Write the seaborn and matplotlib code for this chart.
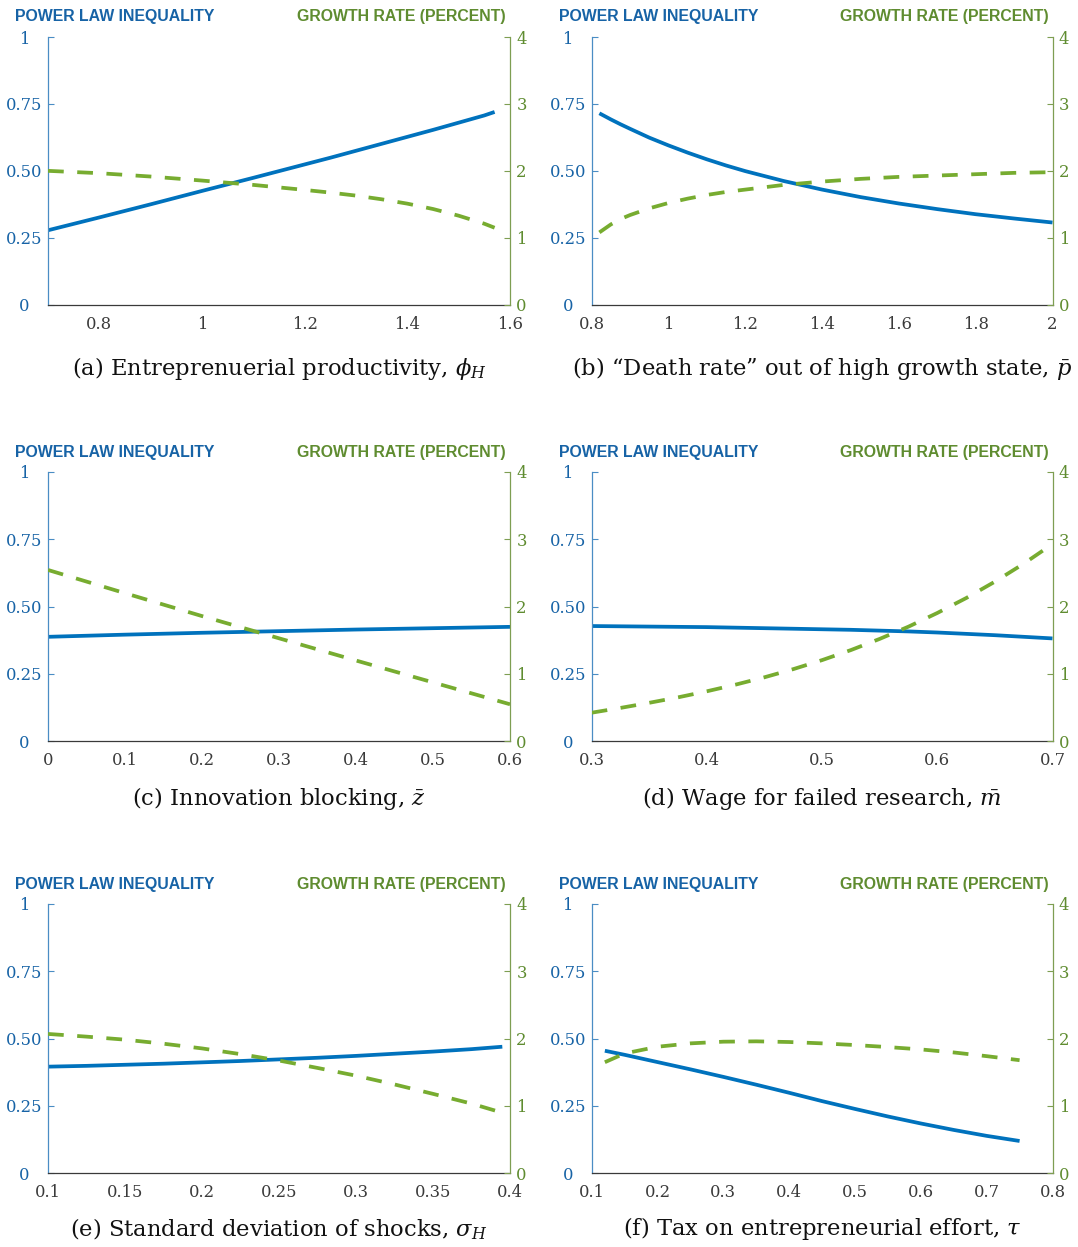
import matplotlib
matplotlib.use("Agg")
import matplotlib.pyplot as plt
import seaborn as sns

# ---------------- data ----------------
# (a) Entrepreneurial productivity
a_x = [0.70, 0.80, 0.90, 1.00, 1.10, 1.20, 1.25, 1.30, 1.35, 1.40, 1.45, 1.50, 1.55, 1.57]
a_ineq = [0.278, 0.326, 0.375, 0.425, 0.474, 0.524, 0.549, 0.575, 0.601, 0.627, 0.653, 0.680, 0.707, 0.720]
a_growth = [2.00, 1.965, 1.915, 1.855, 1.79, 1.715, 1.675, 1.63, 1.575, 1.51, 1.43, 1.33, 1.21, 1.15]
a_ticks = [0.8, 1.0, 1.2, 1.4, 1.6]
a_ticklabels = ["0.8", "1", "1.2", "1.4", "1.6"]
a_xlim = (0.7, 1.6)

# (b) Death rate out of high growth state
b_x = [0.82, 0.85, 0.875, 0.90, 0.95, 1.00, 1.05, 1.10, 1.15, 1.20, 1.30, 1.40, 1.50, 1.60, 1.70, 1.80, 1.90, 2.00]
b_ineq = [0.715, 0.692, 0.674, 0.657, 0.624, 0.595, 0.568, 0.543, 0.520, 0.499, 0.462, 0.430,
          0.402, 0.378, 0.357, 0.338, 0.322, 0.307]
b_growth = [1.08, 1.20, 1.28, 1.34, 1.44, 1.52, 1.585, 1.64, 1.685, 1.72, 1.79, 1.84,
            1.88, 1.91, 1.93, 1.95, 1.97, 1.98]
b_ticks = [0.8, 1.0, 1.2, 1.4, 1.6, 1.8, 2.0]
b_ticklabels = ["0.8", "1", "1.2", "1.4", "1.6", "1.8", "2"]
b_xlim = (0.8, 2.0)

# (c) Innovation blocking
c_x = [0.0, 0.1, 0.2, 0.3, 0.4, 0.5, 0.6]
c_ineq = [0.388, 0.396, 0.403, 0.409, 0.415, 0.420, 0.425]
c_growth = [2.545, 2.20, 1.86, 1.53, 1.20, 0.875, 0.55]
c_ticks = [0.0, 0.1, 0.2, 0.3, 0.4, 0.5, 0.6]
c_ticklabels = ["0", "0.1", "0.2", "0.3", "0.4", "0.5", "0.6"]
c_xlim = (0.0, 0.6)

# (d) Wage for failed research
d_x = [0.300, 0.325, 0.350, 0.375, 0.400, 0.425, 0.450, 0.475, 0.500, 0.525, 0.550,
       0.575, 0.600, 0.625, 0.650, 0.675, 0.700]
d_ineq = [0.428, 0.427, 0.426, 0.425, 0.424, 0.422, 0.420, 0.418, 0.416, 0.414, 0.411,
          0.408, 0.404, 0.399, 0.394, 0.388, 0.382]
d_growth = [0.425, 0.496, 0.572, 0.653, 0.743, 0.842, 0.951, 1.072, 1.206, 1.355, 1.521,
            1.703, 1.906, 2.127, 2.371, 2.638, 2.930]
d_ticks = [0.3, 0.4, 0.5, 0.6, 0.7]
d_ticklabels = ["0.3", "0.4", "0.5", "0.6", "0.7"]
d_xlim = (0.3, 0.7)

# (e) Standard deviation of shocks
e_x = [0.100, 0.125, 0.150, 0.175, 0.200, 0.225, 0.250, 0.275, 0.300, 0.325, 0.350, 0.375, 0.395]
e_ineq = [0.396, 0.399, 0.403, 0.407, 0.412, 0.417, 0.423, 0.429, 0.436, 0.444, 0.452, 0.461, 0.470]
e_growth = [2.07, 2.03, 1.985, 1.925, 1.855, 1.77, 1.675, 1.565, 1.45, 1.32, 1.18, 1.035, 0.90]
e_ticks = [0.1, 0.15, 0.2, 0.25, 0.3, 0.35, 0.4]
e_ticklabels = ["0.1", "0.15", "0.2", "0.25", "0.3", "0.35", "0.4"]
e_xlim = (0.1, 0.4)

# (f) Tax on entrepreneurial effort
f_x = [0.12, 0.15, 0.20, 0.25, 0.30, 0.35, 0.40, 0.45, 0.50, 0.55, 0.60, 0.65, 0.70, 0.75]
f_ineq = [0.455, 0.440, 0.413, 0.386, 0.358, 0.329, 0.299, 0.268, 0.239, 0.211, 0.185,
          0.161, 0.139, 0.120]
f_growth = [1.65, 1.78, 1.88, 1.93, 1.955, 1.96, 1.95, 1.93, 1.905, 1.875, 1.84, 1.795, 1.74, 1.68]
f_ticks = [0.1, 0.2, 0.3, 0.4, 0.5, 0.6, 0.7, 0.8]
f_ticklabels = ["0.1", "0.2", "0.3", "0.4", "0.5", "0.6", "0.7", "0.8"]
f_xlim = (0.1, 0.8)

captions = [
    r"(a) Entreprenuerial productivity, $\phi_H$",
    r"(b) “Death rate” out of high growth state, $\bar{p}$",
    r"(c) Innovation blocking, $\bar{z}$",
    r"(d) Wage for failed research, $\bar{m}$",
    r"(e) Standard deviation of shocks, $\sigma_H$",
    r"(f) Tax on entrepreneurial effort, $\tau$",
]

left_ticks = [0, 0.25, 0.5, 0.75, 1]
left_ticklabels = ["0", "0.25", "0.50", "0.75", "1"]
right_ticks = [0, 1, 2, 3, 4]
right_ticklabels = ["0", "1", "2", "3", "4"]
left_title = "POWER LAW INEQUALITY"
right_title = "GROWTH RATE (PERCENT)"

# ---------------- style ----------------
sns.set_theme(style="white")
plt.rcParams["font.family"] = ["DejaVu Serif"]
plt.rcParams["mathtext.fontset"] = "dejavuserif"

BLUE = "#0072BD"
GREEN = "#77AC30"
BLUE_TXT = "#1763A6"
GREEN_TXT = "#5F8C30"
BLUE_SPINE = "#4A8DC4"
GREEN_SPINE = "#7E9E52"
DARK = "#3A3A3A"

W, H = 1078, 1247
fig = plt.figure(figsize=(W / 100, H / 100), dpi=100)

cols = [(48, 510), (591.7, 1052.5)]
rows = [(37, 304.7), (472, 741.3), (904, 1173.3)]
caption_y = [369, 799, 1229]

panels = [
    (a_x, a_ineq, a_growth, a_ticks, a_ticklabels, a_xlim),
    (b_x, b_ineq, b_growth, b_ticks, b_ticklabels, b_xlim),
    (c_x, c_ineq, c_growth, c_ticks, c_ticklabels, c_xlim),
    (d_x, d_ineq, d_growth, d_ticks, d_ticklabels, d_xlim),
    (e_x, e_ineq, e_growth, e_ticks, e_ticklabels, e_xlim),
    (f_x, f_ineq, f_growth, f_ticks, f_ticklabels, f_xlim),
]

for i, (xs, ineq, growth, xt, xtl, xlim) in enumerate(panels):
    r, c = divmod(i, 2)
    x0, x1 = cols[c]
    y0, y1 = rows[r]
    ax = fig.add_axes([x0 / W, 1 - y1 / H, (x1 - x0) / W, (y1 - y0) / H])
    ax2 = ax.twinx()

    sns.lineplot(x=xs, y=ineq, ax=ax, color=BLUE, linewidth=2.7, legend=False)
    sns.lineplot(x=xs, y=growth, ax=ax2, color=GREEN, linewidth=2.7, legend=False)
    ax2.lines[0].set_dashes([4.2, 3.6])
    ax2.lines[0].set_dash_capstyle("butt")
    ax.lines[0].set_solid_capstyle("butt")

    ax.set_xlim(*xlim)
    ax.set_ylim(0, 1)
    ax2.set_ylim(0, 4)
    ax.set_xlabel("")
    ax.set_ylabel("")
    ax2.set_ylabel("")

    ax.set_xticks(xt, xtl)
    ax.set_yticks(left_ticks, left_ticklabels)
    ax2.set_yticks(right_ticks, right_ticklabels)

    for s in ["top", "right"]:
        ax.spines[s].set_visible(False)
    for s in ["top", "left", "bottom"]:
        ax2.spines[s].set_visible(False)
    ax.spines["left"].set_color(BLUE_SPINE)
    ax.spines["left"].set_linewidth(0.9)
    ax.spines["bottom"].set_color(DARK)
    ax.spines["bottom"].set_linewidth(0.9)
    ax2.spines["right"].set_color(GREEN_SPINE)
    ax2.spines["right"].set_linewidth(0.9)

    ax.tick_params(axis="y", direction="in", length=4, width=0.8,
                   color=BLUE_SPINE, labelcolor=BLUE_TXT, labelsize=11.8, pad=17.3)
    ax.tick_params(axis="x", direction="in", length=3, width=0.8,
                   color=DARK, labelcolor=DARK, labelsize=11.8, pad=8)
    ax2.tick_params(axis="y", direction="in", length=4, width=0.8,
                    color=GREEN_SPINE, labelcolor=GREEN_TXT, labelsize=11.8, pad=4.5)
    for lbl in ax.get_yticklabels():
        lbl.set_horizontalalignment("center")
    ax.grid(False)
    ax2.grid(False)

    # column titles above each panel
    fig.text((x0 - 33) / W, 1 - (y0 - 15.5) / H, left_title, ha="left", va="baseline",
             color=BLUE_TXT, fontsize=11.4, fontweight="bold", family=["Liberation Sans"])
    fig.text((x1 - 4) / W, 1 - (y0 - 15.5) / H, right_title, ha="right", va="baseline",
             color=GREEN_TXT, fontsize=11.4, fontweight="bold", family=["Liberation Sans"])

    # caption
    fig.text((x0 + x1) / 2 / W, 1 - caption_y[r] / H, captions[i], ha="center",
             va="center", color="#111111", fontsize=16.3)

fig.savefig("out.png", dpi=100)
